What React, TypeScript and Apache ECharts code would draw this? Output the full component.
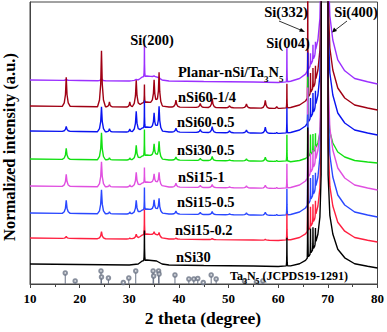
import React, { useEffect, useRef } from "react";
import * as echarts from "echarts";

// ---- data ----
const SERIES_NAMES = ["Planar-nSi/Ta3N5", "nSi60-1/4", "nSi60-0.5", "nSi30-0.5", "nSi15-1", "nSi15-0.5", "nSi15-0.2", "nSi30"];
const SERIES_COLORS = ["#9b30ff", "#a00014", "#0a14f0", "#12e012", "#e050e0", "#2a48ff", "#ff2040", "#000000"];
// baseline (right end) of each stacked pattern, in plot units above the axis
const OFFSETS = [200, 174, 149, 121, 94, 67, 42, 16];
// relative size of the Si(400) tail for each pattern
const TAIL_SCALE = [1.1, 1.0, 1.0, 0.5, 1.0, 1.0, 0.9, 0.85];

// common background profile (2θ, relative height)
const BG: [number, number][] = [
  [10, 4], [20, 3.5], [30, 3], [31.8, 4], [32.6, 7], [33.5, 8], [35.5, 7], [36.6, 4], [38, 3],
  [45, 2.5], [55, 2], [60, 1.5], [62.5, 2.5], [64.3, 5], [65.5, 9], [66.3, 15], [67.3, 25],
  [68, 40], [68.4, 60], [68.65, 110], [68.75, 1000], [69.95, 1000], [70.05, 110], [70.4, 62],
  [71, 40], [72, 22], [73.4, 12], [75.4, 5], [78, 2], [80, 0],
];

// peak positions (2θ) and half widths
const PEAK_POS = [17.3, 24.4, 26.0, 30.1, 31.4, 33.05, 35.0, 36.0, 39.4, 44.3, 46.7, 50.2, 53.6, 57.4, 59.7, 61.75, 65.95, 66.5, 67.0, 67.5];
const PEAK_W = [0.8, 0.8, 0.6, 0.6, 0.8, 0.15, 0.7, 0.7, 0.8, 0.8, 0.8, 0.8, 0.8, 0.8, 0.6, 0.12, 0.1, 0.1, 0.1, 0.1];
const PEAK_SHAPE: [number, number][] = [[-1, 0], [-0.5, 0.12], [-0.2, 0.4], [0, 1], [0.2, 0.4], [0.5, 0.12], [1, 0]];

// peak heights per pattern
const H_PLANAR = [1, 2, 0, 0, 1, 31, 1, 1, 0, 0, 0, 0, 0, 0, 0, 34, 20, 12, 15, 10];
const H_60_14 = [29, 56, 5, 5, 26, 18, 23, 32, 7, 4, 9, 2, 4, 8, 2, 24, 150, 20, 20, 15];
const H_60_05 = [5, 25, 3, 3, 20, 27, 15, 23, 4, 3, 6, 2, 3, 6, 1, 25, 70, 20, 20, 15];
const H_30_05 = [11, 27, 2, 2, 14, 26, 12, 16, 3, 2, 4, 1, 2, 4, 1, 26, 80, 20, 18, 15];
const H_15_1 = [12, 25, 2, 2, 14, 15, 9, 12, 4, 2, 3, 1, 2, 3, 1, 24, 90, 20, 18, 15];
const H_15_05 = [13, 24, 2, 2, 13, 22, 10, 13, 3, 2, 3, 1, 2, 3, 1, 26, 90, 22, 20, 15];
const H_15_02 = [2, 7, 0, 1, 4, 25, 3, 4, 1, 0, 1, 0, 0, 1, 0, 26, 100, 20, 18, 15];
const H_30 = [0, 0, 0, 0, 0, 30, 0, 0, 0, 0, 0, 0, 0, 0, 0, 28, 130, 25, 22, 15];
const HEIGHTS = [H_PLANAR, H_60_14, H_60_05, H_30_05, H_15_1, H_15_05, H_15_02, H_30];

// Ta3N5 reference (JCPDS 19-1291) sticks
const STICK_POS = [17.1, 19.1, 24.3, 24.4, 25.8, 28.8, 29.9, 31.3, 34.8, 34.9, 35.9, 36.0, 39.2, 42.0, 43.0, 43.8, 44.9, 46.5, 47.5, 53.2, 55.6, 56.9];
const STICK_H = [11, 3, 13, 7, 6, 1.5, 6, 13, 13, 8, 13, 10, 9, 5, 5, 5.5, 1.5, 9, 5, 3, 2, 3];

const X_TICKS = [10, 20, 30, 40, 50, 60, 70, 80];

// ---- helpers ----
function interp(pts: [number, number][], x: number): number {
  if (x <= pts[0][0]) return pts[0][1];
  for (let i = 1; i < pts.length; i++) {
    if (x <= pts[i][0]) {
      const [x0, y0] = pts[i - 1];
      const [x1, y1] = pts[i];
      return y0 + ((y1 - y0) * (x - x0)) / (x1 - x0);
    }
  }
  return pts[pts.length - 1][1];
}

function buildPattern(offset: number, ts: number, heights: number[]): [number, number][] {
  const xs = new Set<number>();
  BG.forEach(([x]) => xs.add(x));
  PEAK_POS.forEach((p, i) => {
    if (heights[i] > 0) PEAK_SHAPE.forEach(([dx]) => xs.add(+(p + dx * PEAK_W[i]).toFixed(3)));
  });
  const sorted = Array.from(xs).sort((a, b) => a - b);
  return sorted.map((x) => {
    let b = interp(BG, x);
    if (x > 62 && x < 79 && b < 500) b *= ts;
    let y = offset + b;
    PEAK_POS.forEach((p, i) => {
      const d = (x - p) / PEAK_W[i];
      if (Math.abs(d) < 1) y += heights[i] * interp(PEAK_SHAPE, d);
    });
    return [x, y];
  });
}

const FONT = "'Liberation Serif', 'Times New Roman', serif";
const LBL = 14.5;
const STICK_COLOR = "#6a7385";

export default function App() {
  const ref = useRef<HTMLDivElement>(null);
  useEffect(() => {
    if (!ref.current) return;
    const chart = echarts.init(ref.current, null, { renderer: "svg" });
    const lineSeries = SERIES_NAMES.map((name, i) => ({
      name,
      type: "line",
      data: buildPattern(OFFSETS[i], TAIL_SCALE[i], HEIGHTS[i]),
      showSymbol: false,
      clip: true,
      lineStyle: { color: SERIES_COLORS[i], width: 1.4 },
      itemStyle: { color: SERIES_COLORS[i] },
      z: 2 + i,
    }));
    const stickData = STICK_POS.map((x, i) => [x, STICK_H[i]]);
    const txt = (text: string, x: number, y: number, size = LBL, align = "left") => ({
      type: "text",
      x,
      y,
      z: 100,
      style: {
        text,
        font: `bold ${size}px ${FONT}`,
        fill: "#000",
        textAlign: align,
        textVerticalAlign: "middle",
      },
    });
    const rich = {
      b: { fontSize: LBL, fontWeight: "bold", fontFamily: FONT, verticalAlign: "middle" },
      s: { fontSize: 9, fontWeight: "bold", fontFamily: FONT, lineHeight: 22, verticalAlign: "bottom" },
      bs: { fontSize: 12, fontWeight: "bold", fontFamily: FONT, verticalAlign: "middle" },
      ss: { fontSize: 8, fontWeight: "bold", fontFamily: FONT, lineHeight: 19, verticalAlign: "bottom" },
    };
    chart.setOption({
      animation: false,
      grid: { left: 30, right: 9, top: 2, bottom: 48, show: true, borderColor: "#444", borderWidth: 1 },
      xAxis: {
        type: "value",
        min: 10,
        max: 80,
        interval: 10,
        axisLine: { show: true, lineStyle: { color: "#444" } },
        axisTick: { show: true, inside: false, length: 4, lineStyle: { color: "#444" } },
        minorTick: { show: true, splitNumber: 2, length: 3, lineStyle: { color: "#444" } },
        splitLine: { show: false },
        axisLabel: {
          margin: 8,
          fontSize: 13,
          fontWeight: "bold",
          fontFamily: FONT,
          color: "#000",
          customValues: X_TICKS,
        },
      },
      yAxis: {
        type: "value",
        min: 0,
        max: 282,
        axisLine: { show: true, lineStyle: { color: "#444" } },
        axisTick: { show: false },
        axisLabel: { show: false },
        splitLine: { show: false },
      },
      series: [
        ...lineSeries,
        {
          type: "custom",
          data: stickData,
          encode: { x: 0, y: 1 },
          silent: true,
          z: 20,
          renderItem: (params: any, api: any) => {
            const p0 = api.coord([api.value(0), 0]);
            const p1 = api.coord([api.value(0), api.value(1)]);
            return {
              type: "line",
              shape: { x1: p0[0], y1: p0[1], x2: p1[0], y2: p1[1] },
              style: { stroke: STICK_COLOR, lineWidth: 1 },
            };
          },
        },
        {
          type: "scatter",
          data: stickData,
          symbol: "emptyCircle",
          symbolSize: 3.5,
          itemStyle: { color: STICK_COLOR, borderWidth: 0.9 },
          silent: true,
          z: 21,
        },
      ],
      graphic: [
        txt("Si(200)", 152, 40, LBL, "center"),
        txt("Si(332)", 286, 12, LBL, "center"),
        txt("Si(004)", 288, 43, LBL, "center"),
        txt("Si(400)", 356, 12, LBL, "center"),
        {
          type: "line",
          z: 100,
          shape: { x1: 279, y1: 21, x2: 303, y2: 31 },
          style: { stroke: "#000", lineWidth: 0.8 },
        },
        { type: "polygon", z: 100, shape: { points: [[305, 32], [299, 31.5], [301, 28]] }, style: { fill: "#000" } },
        {
          type: "line",
          z: 100,
          shape: { x1: 347, y1: 21, x2: 334, y2: 31 },
          style: { stroke: "#000", lineWidth: 0.8 },
        },
        { type: "polygon", z: 100, shape: { points: [[332, 32.5], [334, 27.5], [337, 31]] }, style: { fill: "#000" } },
        {
          type: "text",
          x: 178,
          y: 72,
          z: 100,
          style: { text: "{b|Planar-nSi/Ta}{s|3}{b|N}{s|5}", rich, fill: "#000", textVerticalAlign: "middle" },
        },
        txt("nSi60-1/4", 178, 97),
        txt("nSi60-0.5", 177, 122),
        txt("nSi30-0.5", 177, 150),
        txt("nSi15-1", 178, 177),
        txt("nSi15-0.5", 177, 202),
        txt("nSi15-0.2", 175, 230),
        txt("nSi30", 176, 257),
        {
          type: "text",
          x: 230,
          y: 276,
          z: 100,
          style: { text: "{bs|Ta}{ss|3}{bs|N}{ss|5}{bs| (JCPDS19-1291)}", rich, fill: "#000", textVerticalAlign: "middle" },
        },
        txt("2 theta (degree)", 203, 318, 17.5, "center"),
        {
          type: "text",
          x: 9,
          y: 147,
          rotation: Math.PI / 2,
          z: 100,
          style: {
            text: "Normalized intensity (a.u.)",
            font: `bold 16.5px ${FONT}`,
            fill: "#000",
            textAlign: "center",
            textVerticalAlign: "middle",
          },
        },
      ],
    });
    return () => chart.dispose();
  }, []);
  return <div ref={ref} style={{ width: 387, height: 332, position: "absolute", left: 0, top: 0 }} />;
}
